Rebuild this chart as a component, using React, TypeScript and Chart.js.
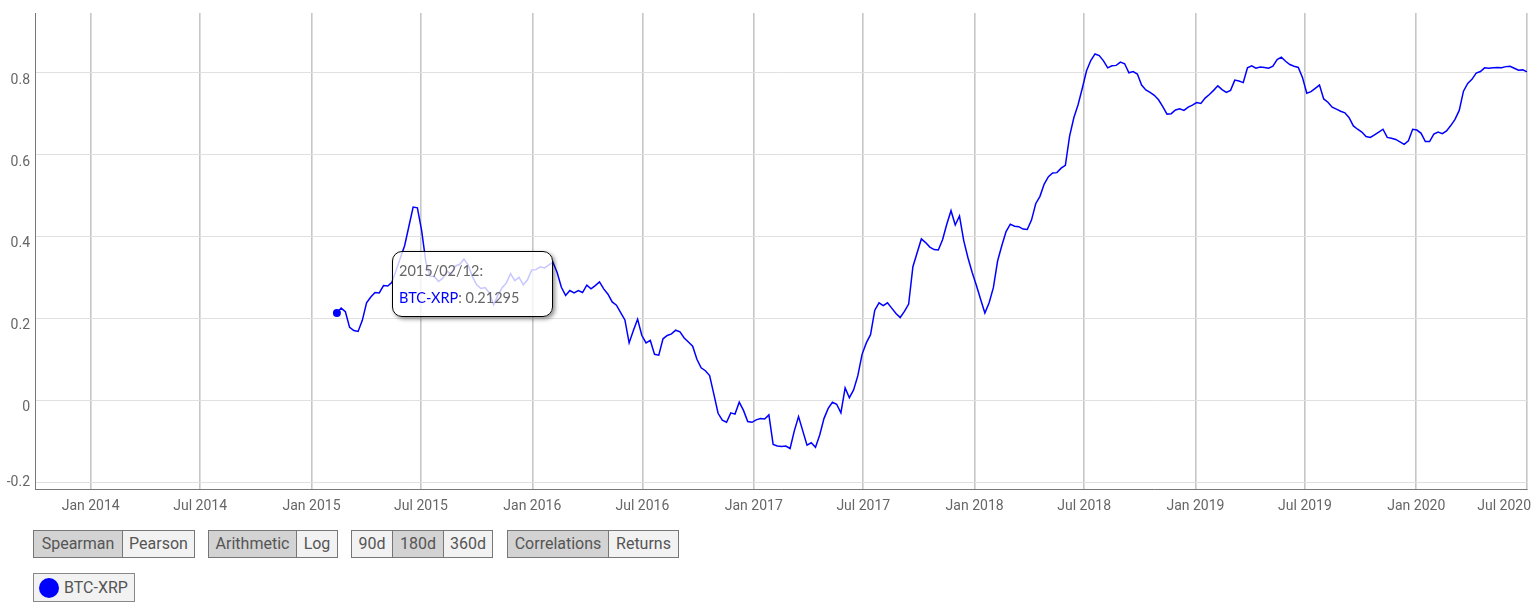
import React, { useEffect, useRef } from "react";
import { Chart, registerables } from "chart.js";

Chart.register(...registerables);

const SERIES_NAME = "BTC-XRP";
const START_DATE = "2015-02-12";
const STEP_DAYS = 7;

// weekly 180d Spearman correlation BTC-XRP
const correlation = [
  0.213, 0.225, 0.216, 0.178, 0.170, 0.168, 0.195, 0.238, 0.252, 0.263,
  0.262, 0.280, 0.279, 0.288, 0.318, 0.348, 0.378, 0.425, 0.472, 0.470,
  0.415, 0.338, 0.303, 0.302, 0.290, 0.298, 0.315, 0.308, 0.328, 0.332,
  0.345, 0.330, 0.302, 0.282, 0.273, 0.275, 0.262, 0.233, 0.256, 0.275,
  0.286, 0.309, 0.292, 0.300, 0.282, 0.294, 0.318, 0.319, 0.326, 0.323,
  0.330, 0.337, 0.312, 0.276, 0.256, 0.268, 0.262, 0.268, 0.263, 0.281,
  0.272, 0.280, 0.289, 0.272, 0.259, 0.240, 0.232, 0.214, 0.196, 0.140,
  0.170, 0.198, 0.158, 0.140, 0.146, 0.112, 0.110, 0.150, 0.158, 0.162,
  0.171, 0.167, 0.152, 0.142, 0.132, 0.100, 0.079, 0.072, 0.060, 0.015,
  -0.032, -0.049, -0.054, -0.031, -0.034, -0.005, -0.025, -0.052, -0.054, -0.048,
  -0.045, -0.046, -0.036, -0.108, -0.112, -0.113, -0.112, -0.118, -0.075, -0.040,
  -0.075, -0.110, -0.104, -0.115, -0.085, -0.045, -0.020, -0.005, -0.010, -0.031,
  0.030, 0.006, 0.025, 0.060, 0.112, 0.140, 0.160, 0.220, 0.238, 0.231,
  0.238, 0.225, 0.212, 0.202, 0.217, 0.235, 0.326, 0.360, 0.394, 0.385,
  0.374, 0.368, 0.367, 0.392, 0.430, 0.463, 0.428, 0.450, 0.390, 0.348,
  0.312, 0.280, 0.246, 0.213, 0.238, 0.275, 0.340, 0.378, 0.412, 0.430,
  0.425, 0.424, 0.418, 0.417, 0.440, 0.480, 0.498, 0.528, 0.546, 0.555,
  0.556, 0.567, 0.574, 0.645, 0.690, 0.722, 0.762, 0.805, 0.830, 0.846,
  0.842, 0.829, 0.812, 0.817, 0.818, 0.826, 0.822, 0.800, 0.803, 0.797,
  0.770, 0.758, 0.752, 0.745, 0.734, 0.717, 0.699, 0.700, 0.709, 0.712,
  0.708, 0.716, 0.721, 0.727, 0.725, 0.738, 0.747, 0.757, 0.768, 0.759,
  0.752, 0.757, 0.782, 0.780, 0.776, 0.812, 0.817, 0.811, 0.814, 0.813,
  0.811, 0.816, 0.832, 0.838, 0.828, 0.820, 0.816, 0.813, 0.788, 0.750,
  0.754, 0.762, 0.770, 0.736, 0.728, 0.716, 0.711, 0.706, 0.702, 0.690,
  0.670, 0.662, 0.655, 0.644, 0.642, 0.648, 0.655, 0.662, 0.642, 0.640,
  0.637, 0.631, 0.625, 0.634, 0.662, 0.660, 0.652, 0.632, 0.632, 0.650,
  0.655, 0.651, 0.658, 0.671, 0.686, 0.708, 0.755, 0.774, 0.784, 0.799,
  0.803, 0.812, 0.811, 0.812, 0.813, 0.812, 0.815, 0.816, 0.811, 0.806,
  0.807, 0.802,
];

const X_MIN_DATE = "2013-10-01";
const X_MAX_DATE = "2020-07-02";
const X_TICK_DATES = [
  "2014-01-01", "2014-07-01", "2015-01-01", "2015-07-01", "2016-01-01",
  "2016-07-01", "2017-01-01", "2017-07-01", "2018-01-01", "2018-07-01",
  "2019-01-01", "2019-07-01", "2020-01-01", "2020-07-01",
];
const X_TICK_LABELS = [
  "Jan 2014", "Jul 2014", "Jan 2015", "Jul 2015", "Jan 2016",
  "Jul 2016", "Jan 2017", "Jul 2017", "Jan 2018", "Jul 2018",
  "Jan 2019", "Jul 2019", "Jan 2020", "Jul 2020",
];
const Y_MIN = -0.217;
const Y_MAX = 0.946;
const Y_TICKS = [-0.2, 0, 0.2, 0.4, 0.6, 0.8];
const Y_TICK_LABELS = ["-0.2", "0", "0.2", "0.4", "0.6", "0.8"];

const HIGHLIGHT_DATE = "2015-02-12";
const HIGHLIGHT_LABEL = "2015/02/12:";
const HIGHLIGHT_VALUE = 0.21295;

const BUTTON_GROUPS = [
  ["Spearman", "Pearson"],
  ["Arithmetic", "Log"],
  ["90d", "180d", "360d"],
  ["Correlations", "Returns"],
];
const ACTIVE_BUTTONS = ["Spearman", "Arithmetic", "180d", "Correlations"];

// layout (styles), kept apart from the data
const GROUP_LEFT = [33, 208, 351, 507];
const BUTTON_WIDTH: Record<string, number> = {
  Spearman: 88, Pearson: 72, Arithmetic: 87, Log: 41,
  "90d": 40, "180d": 51, "360d": 49, Correlations: 100, Returns: 70,
};

const DAY_MS = 86400000;
const ts = (d: string) => Date.parse(d + "T00:00:00Z");

const LABEL_FONT = '14px Roboto, "Open Sans", sans-serif';
const LABEL_COLOR = "#666";

const axisLabelsPlugin = {
  id: "axisLabels",
  afterDraw(chart: any) {
    const { ctx, chartArea, scales } = chart;
    ctx.save();
    ctx.font = LABEL_FONT;
    ctx.fillStyle = LABEL_COLOR;
    ctx.textAlign = "right";
    ctx.textBaseline = "middle";
    Y_TICKS.forEach((v, i) => {
      const y = scales.y.getPixelForValue(v);
      const ty = Math.min(y + 7.5, chartArea.bottom - 7);
      ctx.fillText(Y_TICK_LABELS[i], chartArea.left - 5, ty);
    });
    ctx.textAlign = "center";
    X_TICK_DATES.forEach((d, i) => {
      const x = scales.x.getPixelForValue(ts(d));
      const label = X_TICK_LABELS[i];
      const w = ctx.measureText(label).width;
      const cx = Math.min(x, chart.width - w / 2);
      ctx.fillText(label, cx, chartArea.bottom + 17);
    });
    ctx.restore();
  },
};

function CorrelationChart() {
  const ref = useRef<HTMLCanvasElement>(null);
  useEffect(() => {
    if (!ref.current) return;
    const start = ts(START_DATE);
    const points = correlation.map((v, i) => ({ x: start + i * STEP_DAYS * DAY_MS, y: v }));
    const chart = new Chart(ref.current, {
      type: "line",
      data: {
        datasets: [
          {
            label: "highlight",
            data: [{ x: ts(HIGHLIGHT_DATE), y: HIGHLIGHT_VALUE }],
            showLine: false,
            pointRadius: 4,
            pointBackgroundColor: "#0000ff",
            pointBorderWidth: 0,
            order: 0,
          },
          {
            label: SERIES_NAME,
            data: points,
            borderColor: "#0000ff",
            borderWidth: 1.5,
            pointRadius: 0,
            tension: 0,
            fill: false,
            order: 1,
          },
        ],
      },
      options: {
        animation: false,
        responsive: false,
        events: [],
        layout: { padding: { top: 13, right: 4, left: 0, bottom: 0 } },
        plugins: { legend: { display: false }, tooltip: { enabled: false } },
        scales: {
          x: {
            type: "linear",
            min: ts(X_MIN_DATE),
            max: ts(X_MAX_DATE),
            afterBuildTicks: (s: any) => {
              s.ticks = X_TICK_DATES.map((d) => ({ value: ts(d) }));
            },
            afterFit: (s: any) => {
              s.height = 31;
            },
            ticks: { display: false },
            grid: { color: "#c6c6c6", lineWidth: 1.6, drawTicks: false },
            border: { color: "#777", width: 1 },
          },
          y: {
            min: Y_MIN,
            max: Y_MAX,
            afterBuildTicks: (s: any) => {
              s.ticks = Y_TICKS.map((v) => ({ value: v }));
            },
            afterFit: (s: any) => {
              s.width = 35;
            },
            ticks: { display: false },
            grid: { color: "#e0e0e0", lineWidth: 1, drawTicks: false },
            border: { color: "#777", width: 1 },
          },
        },
      },
      plugins: [axisLabelsPlugin],
    });
    return () => chart.destroy();
  }, []);
  return (
    <canvas
      ref={ref}
      width={1531}
      height={520}
      style={{ position: "absolute", left: 0, top: 0, width: 1531, height: 520 }}
    />
  );
}

const btnFont = 'Roboto, "Open Sans", sans-serif';

export default function App() {
  return (
    <div style={{ position: "absolute", left: 0, top: 0, width: 1531, height: 616, background: "#fff" }}>
      <CorrelationChart />
      <div
        style={{
          position: "absolute",
          left: 392,
          top: 251,
          width: 161,
          height: 66,
          boxSizing: "border-box",
          border: "1px solid #000",
          borderRadius: 10,
          background: "rgba(255,255,255,0.78)",
          boxShadow: "2px 2px 4px rgba(0,0,0,0.45)",
          fontFamily: 'Lato, "Open Sans", sans-serif',
          fontSize: 14.5,
          color: "#666",
          padding: "9px 0 0 6px",
        }}
      >
        <div style={{ lineHeight: "20px" }}>{HIGHLIGHT_LABEL}</div>
        <div style={{ lineHeight: "20px", marginTop: 7 }}>
          <span style={{ color: "#0000ff" }}>{SERIES_NAME}</span>: {HIGHLIGHT_VALUE}
        </div>
      </div>
      {BUTTON_GROUPS.map((g, gi) => (
        <div
          key={gi}
          style={{
            position: "absolute",
            left: GROUP_LEFT[gi],
            top: 530,
            display: "flex",
            border: "1px solid #777",
            height: 26,
          }}
        >
          {g.map((b, j) => (
            <div
              key={b}
              style={{
                boxSizing: "border-box",
                width: BUTTON_WIDTH[b],
                textAlign: "center",
                lineHeight: "26px",
                fontFamily: btnFont,
                fontSize: 16,
                color: "#555",
                whiteSpace: "nowrap",
                background: ACTIVE_BUTTONS.includes(b) ? "#d3d3d3" : "#f2f2f2",
                borderLeft: j ? "1px solid #777" : "none",
              }}
            >
              {b}
            </div>
          ))}
        </div>
      ))}
      <div
        style={{
          position: "absolute",
          left: 33,
          top: 573,
          height: 27,
          border: "1px solid #888",
          background: "#f2f2f2",
          display: "flex",
          alignItems: "center",
          padding: "0 6px 0 5px",
          fontFamily: btnFont,
          fontSize: 16,
          color: "#555",
        }}
      >
        <span
          style={{
            display: "inline-block",
            width: 20,
            height: 20,
            borderRadius: "50%",
            background: "#0000ff",
            marginRight: 5,
          }}
        />
        {SERIES_NAME}
      </div>
    </div>
  );
}
